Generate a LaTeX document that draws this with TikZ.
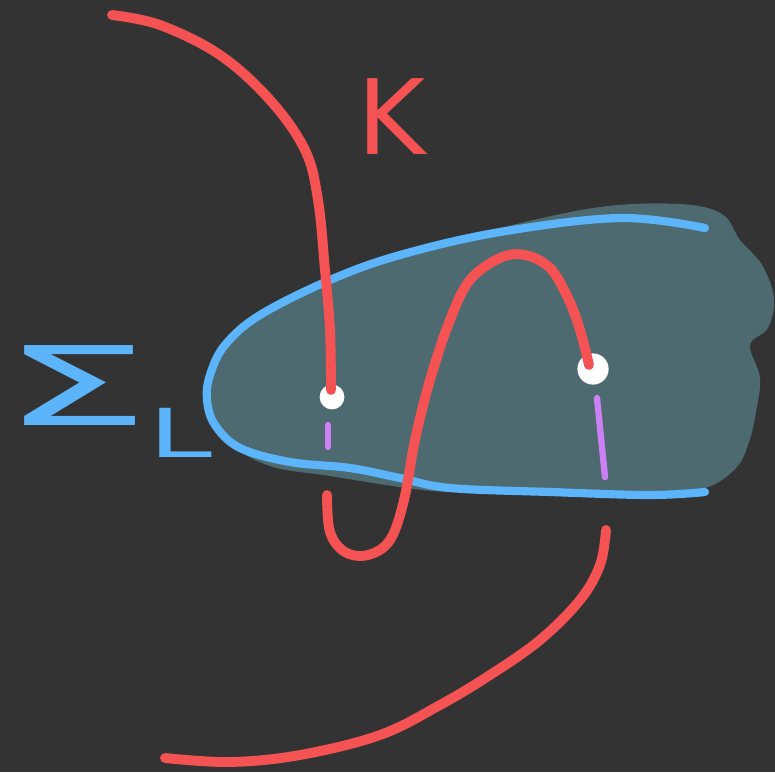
\documentclass[tikz,border=0pt]{standalone}
\usepackage{fontspec}
\usepackage{graphicx}
\newfontfamily\sketchfont{DejaVu Sans}
\definecolor{bgcolor}{RGB}{51,51,51}
\definecolor{blobcolor}{RGB}{77,106,112}
\definecolor{sigcolor}{RGB}{92,181,250}
\definecolor{knotcolor}{RGB}{245,83,83}
\definecolor{arccolor}{RGB}{204,128,245}

\begin{document}
\begin{tikzpicture}[x=0.025cm,y=-0.025cm,
    knot/.style={knotcolor,line width=7pt,line cap=round,line join=round},
    seifert/.style={sigcolor,line width=5.8pt,line cap=round,line join=round},
    arcpiece/.style={arccolor,line width=4.5pt,line cap=round},
    puncture/.style={circle,fill=white,inner sep=0pt,minimum size=#1}]
  % canvas
  \fill[bgcolor] (0,0) rectangle (775,772);
  \useasboundingbox (0,0) rectangle (775,772);
  % shaded surface
  \fill[blobcolor] plot[smooth cycle,tension=0.6] coordinates {
    (210,375) (225,345) (260,315) (330,280) (400,255) (500,228) (600,207)
    (680,204) (722,214) (740,240) (762,265) (774,298) (768,328) (750,345)
    (760,378) (756,412) (749,442) (736,468) (705,488) (650,494) (550,493)
    (450,492) (400,487) (330,476) (270,466) (228,442) (209,410)};
  % boundary of the surface
  \draw[seifert] plot[smooth,tension=0.6] coordinates {
    (705,228) (620,218) (500,232) (400,255) (330,280) (260,315) (225,345)
    (210,375) (207,400) (215,425) (240,448) (290,462) (350,468) (400,478)
    (450,488) (550,492) (650,495) (705,492)};
  % punctures
  \node[puncture=0.62cm] (dotA) at (332,397) {};
  \node[puncture=0.78cm] (dotB) at (593,369) {};
  % the knot
  \draw[knot] plot[smooth,tension=0.6] coordinates {
    (112,15) (160,25) (220,55) (270,100) (305,150) (318,200) (325,270)
    (330,330) (331,390)};
  \draw[knot] plot[smooth,tension=0.6] coordinates {
    (327,495) (330,532) (345,552) (368,555) (390,540) (404,500) (415,440)
    (430,380) (450,320) (470,280) (500,258) (525,255) (550,268) (568,298)
    (580,330) (589,365)};
  \draw[knot] plot[smooth,tension=0.6] coordinates {
    (606,530) (600,565) (580,600) (540,640) (490,675) (440,705) (380,735)
    (300,755) (230,762) (165,758)};
  % arcs below the punctures
  \draw[arcpiece] (328,425) -- (328,447);
  \draw[arcpiece] (597,398) -- (605,477);
  % labels
  \node[knotcolor,font=\sketchfont\fontsize{74}{74}\selectfont,inner sep=0pt]
    (knotlabel) at (392,117) {K};
  \node[sigcolor,font=\sketchfont\fontsize{78}{78}\selectfont,inner sep=0pt,anchor=base west]
    (surflabel) at (1,425) {\scalebox{2.15}[1]{Σ}\hspace{-1pt}\raisebox{-23pt}{\fontsize{48}{48}\selectfont\scalebox{1.7}[1]{L}}};
\end{tikzpicture}
\end{document}
